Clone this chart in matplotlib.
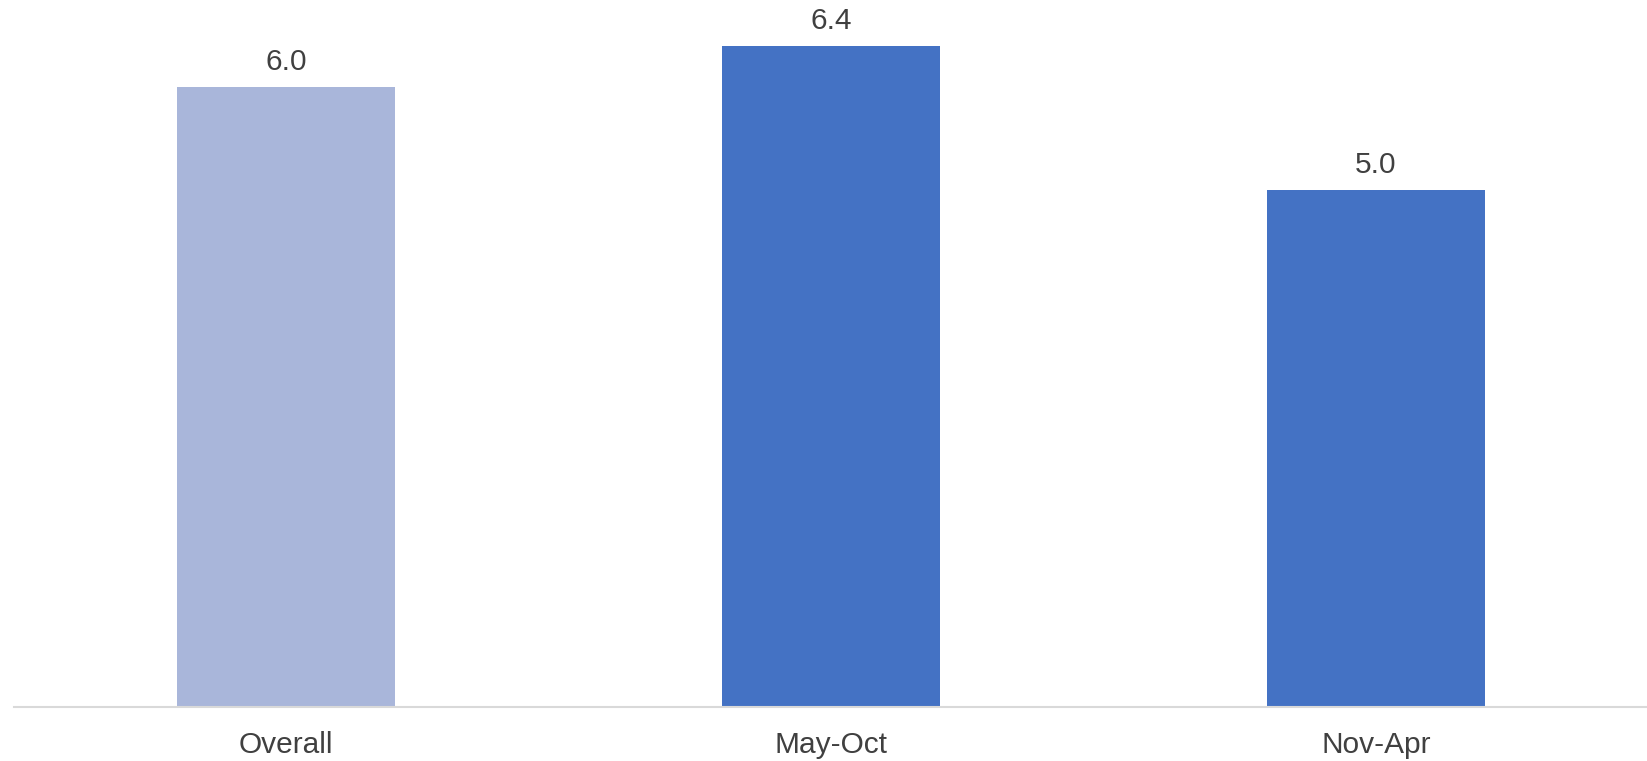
import matplotlib
matplotlib.use("Agg")
import matplotlib.pyplot as plt
import numpy as np

categories = ["Overall", "May-Oct", "Nov-Apr"]
values = [6.0, 6.4, 5.0]
colors = ["#A9B6DA", "#4472C4", "#4472C4"]

plt.rcParams["font.family"] = ["Liberation Sans", "DejaVu Sans"]

fig = plt.figure(figsize=(16.47, 7.61), dpi=100)
ax = fig.add_axes([13.5 / 1647, 54 / 761, 1635 / 1647, 707 / 761])

x = np.arange(len(categories))
rects = ax.bar(x, values, 0.4, color=colors)
ax.set_xlim(-0.5, 2.5)
ax.set_ylim(0, 707 / 103.33)

for rect in rects:
    h = rect.get_height()
    ax.annotate("{:.1f}".format(h),
                xy=(rect.get_x() + rect.get_width() / 2, h),
                xytext=(0, 8), textcoords="offset points",
                ha="center", va="bottom", fontsize=21.5, color="#404040")

ax.set_xticks(x)
ax.set_xticklabels(categories, fontsize=21.5, color="#404040")
ax.tick_params(axis="x", length=0, pad=17)
ax.set_yticks([])
for s in ["top", "right", "left"]:
    ax.spines[s].set_visible(False)
ax.spines["bottom"].set_color("#d9d9d9")
ax.spines["bottom"].set_linewidth(1.5)

fig.savefig("out.png", dpi=100)
